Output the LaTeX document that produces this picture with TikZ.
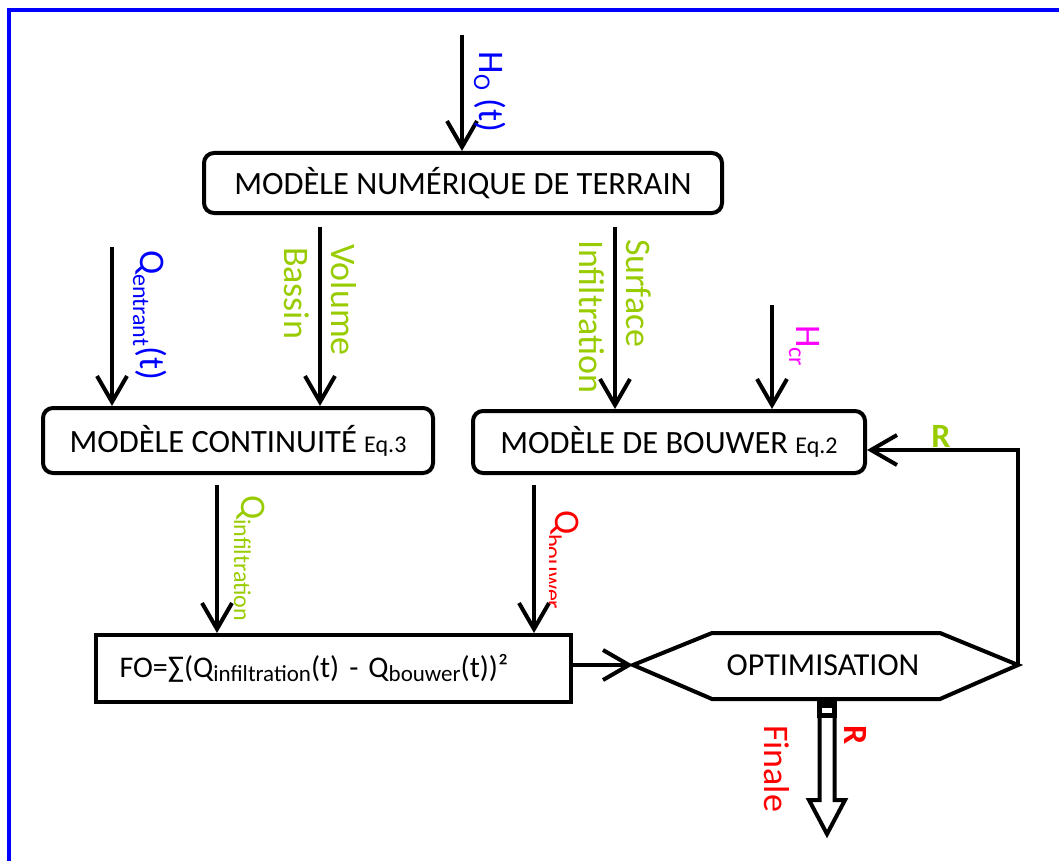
\documentclass[tikz,border=0pt]{standalone}
\usepackage{fontspec}
\setmainfont{Carlito}
\usetikzlibrary{arrows.meta}
\definecolor{lblue}{RGB}{0,0,255}
\definecolor{lgreen}{RGB}{153,204,0}
\definecolor{lred}{RGB}{255,0,0}
\definecolor{lmag}{RGB}{255,0,255}
\newcommand\lsub[2]{\raisebox{#1}{\fontsize{24}{28}\selectfont #2}}
\newcommand\fsub[1]{\raisebox{-4pt}{\fontsize{23}{27}\selectfont #1}}
\begin{document}
\begin{tikzpicture}[x=1pt,y=-1pt,line width=4pt,
  box/.style={draw, rounded corners=10pt, inner sep=0pt, font=\fontsize{32.5}{38}\selectfont},
  arr/.style={-{Straight Barb[length=26pt,width=30pt]}},
  lab/.style={rotate=-90, anchor=base west, inner sep=0pt, font=\fontsize{36}{44}\selectfont},
  rlab/.style={inner sep=0pt, font=\fontsize{34}{40}\selectfont\bfseries},
  eqtxt/.style={font=\fontsize{24}{28}\selectfont}
]
\useasboundingbox (0,0) rectangle (1059,861);
\clip (0,0) rectangle (1059,861);
% frame
\draw[lblue, line width=4pt] (9,875) -- (9,10) -- (1075,10);

% boxes
\node[box, minimum width=518pt, minimum height=60pt] (mnt) at (463,183) {MODÈLE NUMÉRIQUE DE TERRAIN};
\node[box, minimum width=390pt, minimum height=65pt] (cont) at (238,440.5) {MODÈLE CONTINUITÉ {\fontsize{24}{28}\selectfont Eq.3}};
\node[box, minimum width=392pt, minimum height=62pt] (bouw) at (669,442) {MODÈLE DE BOUWER {\fontsize{24}{28}\selectfont Eq.2}};
\node[draw, inner sep=0pt, inner xsep=24pt, text width=427pt, minimum height=67pt, align=left,
      font=\fontsize{30}{36}\selectfont] (fo) at (333,668.5)
  {FO=∑(Q\fsub{infiltration}(t) - Q\fsub{bouwer}(t))²};

% optimisation hexagon
\coordinate (opL) at (633,665);
\coordinate (opTL) at (712,633);
\coordinate (opTR) at (940,633);
\coordinate (opR) at (1018,665);
\coordinate (opBR) at (940,699);
\coordinate (opBL) at (712,699);
\draw (opL) -- (opTL) -- (opTR) -- (opR) -- (opBR) -- (opBL) -- cycle;
\node[inner sep=0pt, font=\fontsize{32}{38}\selectfont] (opt) at (823,665) {OPTIMISATION};

% input arrows
\coordinate (hoS) at (462,35);
\draw[arr] (hoS) -- (hoS |- mnt.north);
\node[lab, text=lblue] (ho) at (479,50) {H\lsub{-5pt}{O} (t)};

\coordinate (qeS) at (112,247);
\draw[arr] (qeS) -- (qeS |- cont.north);
\node[lab, text=lblue] (qe) at (140,248) {Q\lsub{-7pt}{entrant}(t)};

\coordinate (volS) at (320,227);
\draw[arr] (volS) -- (volS |- cont.north);
\node[lab, text=lgreen] (vol) at (331,242) {Volume};
\node[lab, text=lgreen] (bas) at (284,245) {Bassin};

\coordinate (surS) at (615,227);
\draw[arr] (surS) -- (surS |- bouw.north);
\node[lab, text=lgreen] (sur) at (626,237) {Surface};
\node[lab, text=lgreen] (inf) at (579,238) {Infiltration};

\coordinate (hcS) at (772,305);
\draw[arr] (hcS) -- (hcS |- bouw.north);
\node[lab, text=lmag] (hc) at (796,323) {H\lsub{-7pt}{cr}};

\coordinate (qiS) at (217,485);
\draw[arr] (qiS) -- (qiS |- fo.north);
\node[lab, text=lgreen] (qi) at (241,493) {Q\lsub{-7pt}{infiltration}};

\coordinate (qbS) at (534,485);
\draw[arr] (qbS) -- (qbS |- fo.north);
\begin{scope}
\clip (549,480) rectangle (600,630);
\node[lab, text=lred] (qb) at (555,508) {Q\lsub{-10pt}{bouwer}};
\end{scope}

% FO -> optimisation
\draw[arr] (opL -| fo.east) -- (opL);

% feedback
\coordinate (fbk) at (1018,450);
\draw[arr] (opR) -- (fbk) -- (fbk -| bouw.east);
\node[rlab, text=lgreen] (rg) at (941,436) {R};

% final output arrow
\coordinate (outT) at (827,699);
\fill (817,699) rectangle (837,718);
\fill[white] (822,708) rectangle (832,713);
\draw[line join=miter] (819.5,716) -- (819.5,800) -- (809,800) -- (827,834) -- (845,800) -- (834.5,800) -- (834.5,716);
\node[rlab, rotate=-90, anchor=base west, text=lred] (rr) at (844,723) {R};
\node[lab, text=lred] (fin) at (764,723) {Finale};
\end{tikzpicture}
\end{document}
